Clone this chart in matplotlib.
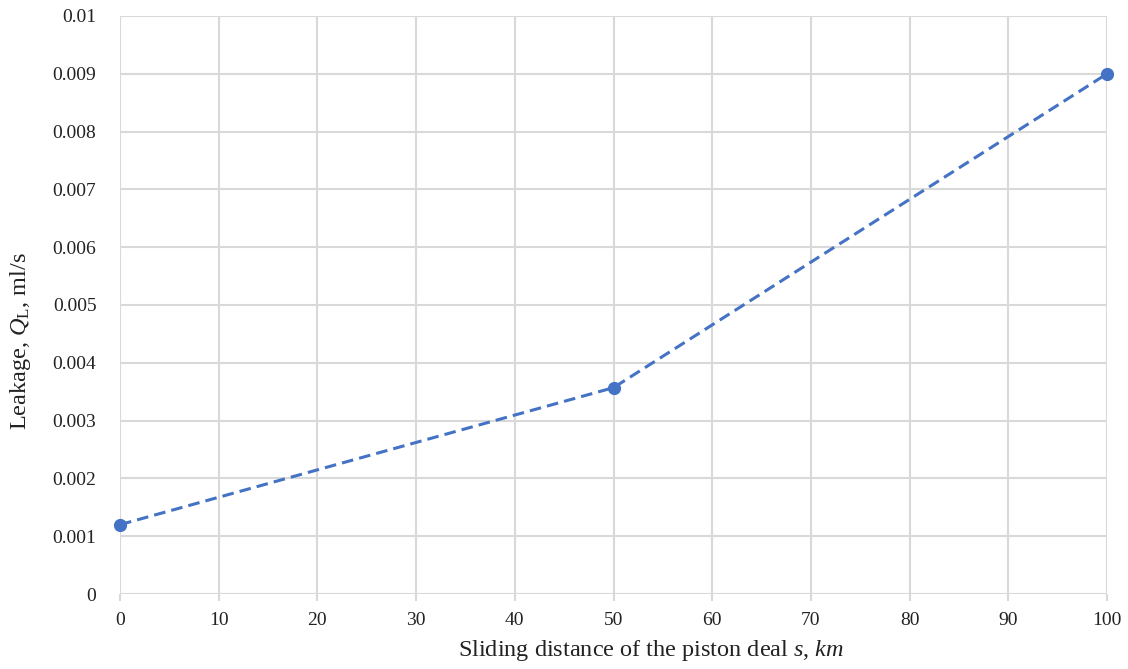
import matplotlib.pyplot as plt
import numpy as np

# data
distance = [0, 50, 100]
leakage = [0.0012, 0.00357, 0.009]
x_ticks = np.arange(0, 101, 10)
y_ticks = [0, 0.001, 0.002, 0.003, 0.004, 0.005, 0.006, 0.007, 0.008, 0.009, 0.01]
y_labels = ['0', '0.001', '0.002', '0.003', '0.004', '0.005', '0.006', '0.007', '0.008', '0.009', '0.01']

plt.rcParams['font.family'] = ['Liberation Serif', 'DejaVu Serif']
plt.rcParams['mathtext.fontset'] = 'custom'
plt.rcParams['mathtext.rm'] = 'Liberation Serif'
plt.rcParams['mathtext.it'] = 'Liberation Serif:italic'

fig = plt.figure(figsize=(11.28, 6.69), dpi=100)
ax = fig.add_axes([0.1064, 0.1121, 0.875, 0.864])

ax.plot(distance, leakage, color='#4472C4', linestyle='--', linewidth=2.2,
        dashes=(3.8, 2), marker='o', markersize=8.5, zorder=3, clip_on=False)

ax.set_xlim(0, 100)
ax.set_ylim(0, 0.01)
ax.set_xticks(x_ticks)
ax.set_yticks(y_ticks)
ax.set_yticklabels(y_labels)
ax.grid(color='#d9d9d9', linewidth=1.5, zorder=0)
for s in ax.spines.values():
    s.set_visible(False)
ax.tick_params(axis='x', length=5, width=1.5, color='#d9d9d9', labelsize=14, pad=8, labelcolor='#222222')
ax.tick_params(axis='y', length=0, labelsize=14, pad=17, labelcolor='#222222')

ax.set_xlabel('Sliding distance of the piston deal $s$, $km$', fontsize=17.5, color='#222222')
ax.set_ylabel('Leakage, $Q_{\\mathrm{L}}$, ml/s', fontsize=17.5, color='#222222')
# labels in the original sit off-centre
ax.xaxis.set_label_coords(0.538, -0.076)
ax.yaxis.set_label_coords(-0.088, 0.438)

fig.savefig('out.png', dpi=100)
plt.close(fig)
